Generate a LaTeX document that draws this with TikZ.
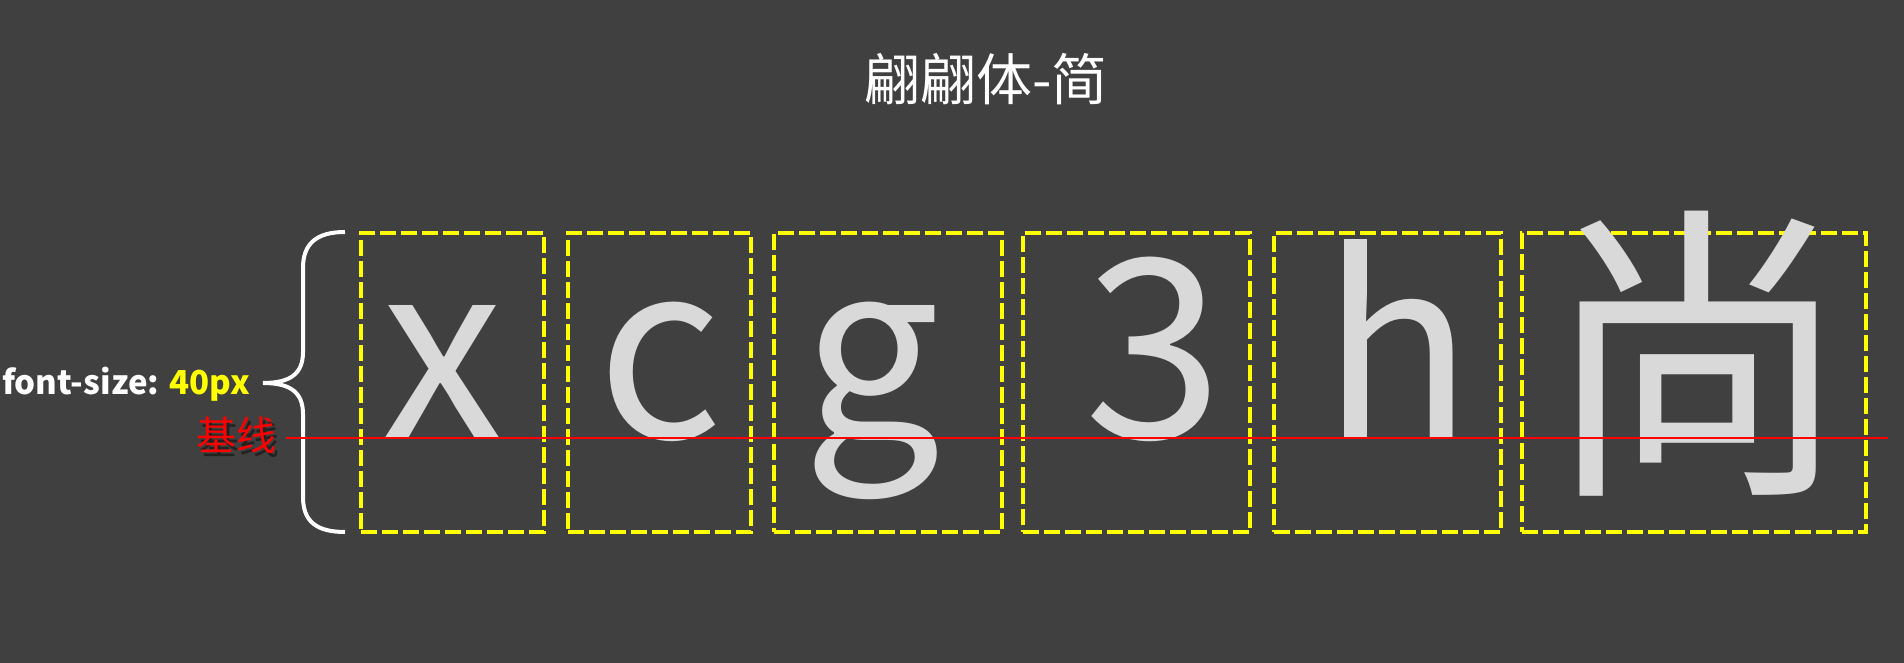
\documentclass[tikz,border=0pt]{standalone}
\usepackage{fontspec}
\setmainfont{Noto Sans CJK SC}
\newfontfamily\cjk{Noto Sans CJK SC}
\definecolor{bg}{RGB}{64,64,64}
\definecolor{boxyellow}{RGB}{255,255,0}
\definecolor{glyphgray}{RGB}{217,217,217}
\definecolor{basered}{RGB}{255,0,0}
\definecolor{redshadow}{RGB}{34,34,34}

\begin{document}
\begin{tikzpicture}[x=1pt,y=-1pt,
  glyphbox/.style={draw=boxyellow,line width=4pt,dash pattern=on 16pt off 5pt,
    minimum height=299pt,inner sep=0pt,outer sep=0pt},
  glyph/.style={text=glyphgray,inner sep=0pt,anchor=base}]
 \fill[bg] (0,0) rectangle (1904,663);
 \node[text=white,font=\cjk\fontsize{56}{56}\selectfont] (title) at (986,79) {翩翩体-简};
 \foreach \nm/\bx/\bw/\gx/\gy/\fs/\ch in {gx/452.5/183/443/438/245/x,gc/659.5/183/660/438/245/c,%
   gg/888/228/872/438/245/g,gthree/1136.5/227/1154/438/250/3,gh/1387.5/227/1397/438/250/h,%
   gshang/1694/344/1697/471/310/尚}{%
   \node[glyphbox,minimum width=\bw pt] (box\nm) at (\bx,382.5) {};
   \node[glyph,font=\cjk\fontsize{\fs}{\fs}\selectfont] (\nm) at (\gx,\gy) {\ch};
 }
 \draw[white,line width=4pt] (345,232) .. controls (316,232) and (303,244) .. (303,268)
   -- (303,352) .. controls (303,374) and (290,383) .. (263,383)
   .. controls (290,383) and (303,392) .. (303,414) -- (303,497)
   .. controls (303,521) and (316,532) .. (345,532);
 \node[anchor=base west,inner sep=0pt,text=white,font=\cjk\bfseries\fontsize{33}{33}\selectfont]
   (fontsize) at (2,394) {font-size: \textcolor{boxyellow}{40px}};
 \node[text=basered,inner sep=0pt,font=\cjk\fontsize{40}{40}\selectfont] (jixian) at (236,437)
   {\makebox[0pt][l]{\hspace{3pt}\raisebox{-4pt}{\textcolor{redshadow}{基线}}}基线};
 \coordinate (baseend) at (1888,438);
 \draw[basered,line width=1.6pt] ([xshift=10pt]jixian.east |- baseend) -- (baseend);
\end{tikzpicture}
\end{document}
